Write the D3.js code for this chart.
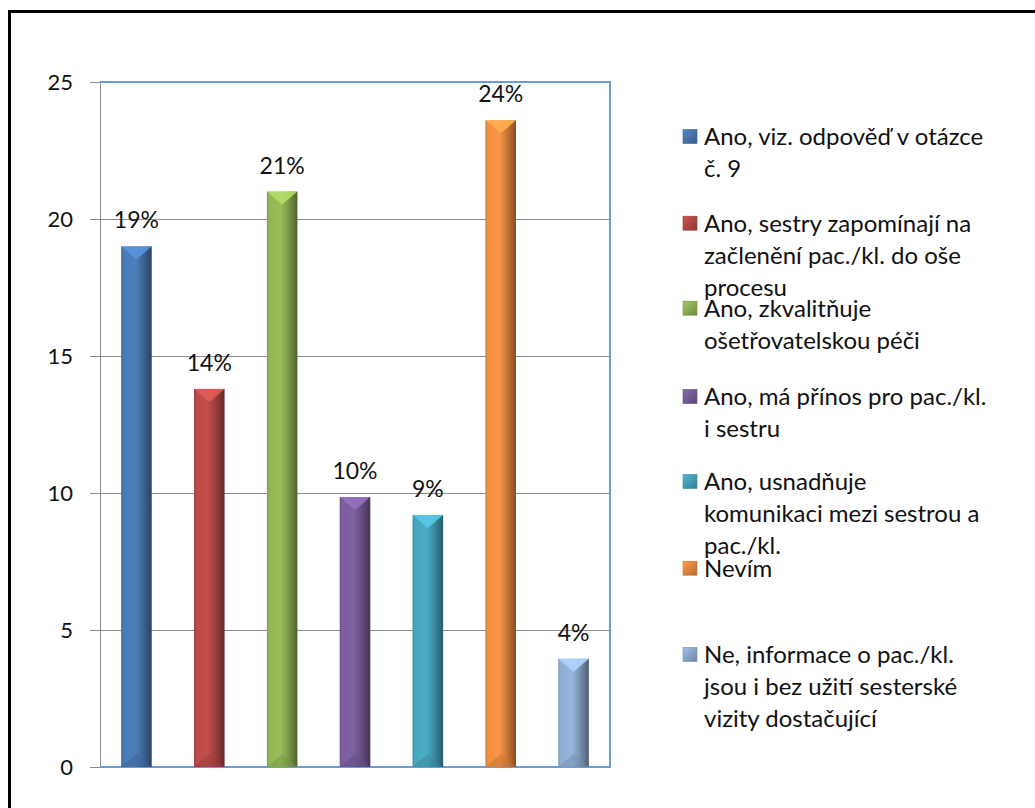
<!DOCTYPE html>
<html><head><meta charset="utf-8">
<script src="https://cdn.jsdelivr.net/npm/d3@7"></script>
<style>
html,body{margin:0;padding:0;background:#fff;}
svg{display:block;}
text{font-family:Lato,"Open Sans",sans-serif;fill:#111;}
</style></head>
<body>
<svg id="chart" width="1035" height="808"></svg>
<script>
const categories = [
  ["Ano, viz. odpověď v otázce", "č. 9"],
  ["Ano, sestry zapomínají na", "začlenění pac./kl. do oše", "procesu"],
  ["Ano, zkvalitňuje", "ošetřovatelskou péči"],
  ["Ano, má přínos pro pac./kl.", "i sestru"],
  ["Ano, usnadňuje", "komunikaci mezi sestrou a", "pac./kl."],
  ["Nevím"],
  ["Ne, informace o pac./kl.", "jsou i bez užití sesterské", "vizity dostačující"]
];
const values = [19, 13.8, 21, 9.85, 9.2, 23.6, 3.95];
const pctLabels = ["19%", "14%", "21%", "10%", "9%", "24%", "4%"];
const colors = ["#4A7AB5", "#BA4B48", "#94B655", "#7A5E9C", "#47A6BF", "#F08F42", "#90AED3"];
const yTicks = [0, 5, 10, 15, 20, 25];

const svg = d3.select("#chart");
const plot = {left: 100, right: 610, top: 82, bottom: 767};

// outer frame
svg.append("rect").attr("x", 9.5).attr("y", 11.5).attr("width", 1100).attr("height", 900)
  .attr("fill", "none").attr("stroke", "#000").attr("stroke-width", 3);

const ids = categories.map((c, i) => "c" + i);
const x = d3.scaleBand().domain(ids).range([plot.left, plot.right]).paddingInner(0.58).paddingOuter(0.29);
const y = d3.scaleLinear().domain([0, 25]).range([plot.bottom, plot.top]);

// gradients
const defs = svg.append("defs");
colors.forEach((c, i) => {
  const base = d3.color(c);
  const g = defs.append("linearGradient").attr("id", "g" + i).attr("x1", 0).attr("x2", 1).attr("y1", 0).attr("y2", 0);
  g.append("stop").attr("offset", "0%").attr("stop-color", base.darker(0.4));
  g.append("stop").attr("offset", "8%").attr("stop-color", base);
  g.append("stop").attr("offset", "45%").attr("stop-color", base.brighter(0.12));
  g.append("stop").attr("offset", "65%").attr("stop-color", base.darker(0.35));
  g.append("stop").attr("offset", "100%").attr("stop-color", base.darker(1.7));
});

// gridlines
const gy = svg.append("g");
gy.selectAll("line").data(yTicks.filter(t => t > 0 && t < 25)).join("line")
  .attr("x1", plot.left - 10).attr("x2", plot.right)
  .attr("y1", d => y(d)).attr("y2", d => y(d))
  .attr("stroke", "#8c8c8c").attr("stroke-width", 1).attr("shape-rendering", "crispEdges");

// axis
const axis = d3.axisLeft(y).tickValues(yTicks).tickSize(10).tickPadding(17).tickFormat(d3.format("d"));
const ag = svg.append("g").attr("transform", `translate(${plot.left},0)`).call(axis);
ag.select(".domain").attr("stroke", "#8c8c8c").attr("shape-rendering", "crispEdges");
ag.selectAll(".tick line").attr("stroke", "#8c8c8c").attr("shape-rendering", "crispEdges");
ag.selectAll(".tick text").attr("font-size", 22).attr("font-family", "Lato, sans-serif").attr("fill", "#111");

// plot border (top, right, bottom in blue)
svg.append("path")
  .attr("d", `M${plot.left},${y(25)}H${plot.right}V${y(0)}H${plot.left}`)
  .attr("fill", "none").attr("stroke", "#6d9bd4").attr("stroke-width", 1.3).attr("shape-rendering", "crispEdges");

// bars
const bars = svg.append("g").selectAll("g").data(values).join("g");
bars.append("rect")
  .attr("x", (d, i) => x(ids[i])).attr("width", x.bandwidth())
  .attr("y", d => y(d)).attr("height", d => y(0) - y(d))
  .attr("fill", (d, i) => `url(#g${i})`);
// top bevel
bars.append("path")
  .attr("d", (d, i) => {
    const x0 = x(ids[i]), w = x.bandwidth(), t = y(d);
    return `M${x0},${t}H${x0 + w}L${x0 + w / 2},${t + 13}Z`;
  })
  .attr("fill", (d, i) => d3.color(colors[i]).brighter(0.55)).attr("opacity", 0.9);
// bottom bevel
bars.append("path")
  .attr("d", (d, i) => {
    const x0 = x(ids[i]), w = x.bandwidth(), b = y(0);
    return `M${x0},${b}H${x0 + w}L${x0 + w / 2},${b - 13}Z`;
  })
  .attr("fill", (d, i) => d3.color(colors[i]).darker(0.6)).attr("opacity", 0.5);

// data labels
svg.append("g").selectAll("text").data(values).join("text")
  .attr("x", (d, i) => x(ids[i]) + x.bandwidth() / 2)
  .attr("y", d => y(d) - 18)
  .attr("text-anchor", "middle").attr("font-size", 23)
  .text((d, i) => pctLabels[i]);

// legend
const legTop = [145, 231.7, 316.7, 405, 490, 576.7, 663];
const lg = svg.append("g");
categories.forEach((lines, i) => {
  const b = legTop[i];
  const lgGrad = defs.append("linearGradient").attr("id", "lgd" + i).attr("x1", 0).attr("x2", 1).attr("y1", 0).attr("y2", 1);
  const base = d3.color(colors[i]);
  lgGrad.append("stop").attr("offset", "0%").attr("stop-color", base.brighter(0.3));
  lgGrad.append("stop").attr("offset", "100%").attr("stop-color", base.darker(0.8));
  lg.append("rect").attr("x", 683).attr("y", b - 15.5).attr("width", 14).attr("height", 14)
    .attr("fill", `url(#lgd${i})`).attr("stroke", base.darker(0.6)).attr("stroke-width", 0.6);
  const t = lg.append("text").attr("x", 704).attr("y", b).attr("font-size", 24);
  lines.forEach((ln, j) => {
    t.append("tspan").attr("x", 704).attr("y", b + j * 32).text(ln);
  });
});
</script>
</body></html>
